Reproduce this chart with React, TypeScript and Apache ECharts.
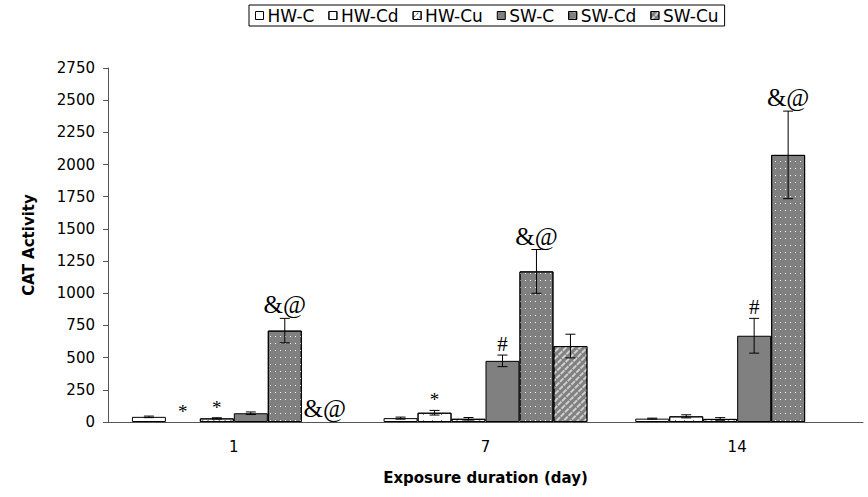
import React, { useEffect, useRef } from 'react';
import * as echarts from 'echarts';

const categories = ['1', '7', '14'];
const seriesNames = ['HW-C', 'HW-Cd', 'HW-Cu', 'SW-C', 'SW-Cd', 'SW-Cu'];

const hwC = [40, 30, 26];
const hwCd = [0, 72, 44];
const hwCu = [28, 25, 24];
const swC = [68, 475, 670];
const swCd = [710, 1170, 2075];
const swCu = [0, 590, 0];

const hwCErr = [6, 8, 4];
const hwCdErr = [0, 18, 12];
const hwCuErr = [5, 10, 10];
const swCErr = [10, 45, 135];
const swCdErr = [95, 170, 340];
const swCuErr = [0, 92, 0];

const hwCMarks = ['', '', ''];
const hwCdMarks = ['*', '*', ''];
const hwCuMarks = ['*', '', ''];
const swCMarks = ['', '#', '#'];
const swCdMarks = ['&@', '&@', '&@'];
const swCuMarks = ['&@', '', ''];

const values = [hwC, hwCd, hwCu, swC, swCd, swCu];
const errors = [hwCErr, hwCdErr, hwCuErr, swCErr, swCdErr, swCuErr];
const marks = [hwCMarks, hwCdMarks, hwCuMarks, swCMarks, swCdMarks, swCuMarks];

const CAT_GAP = 0.19;
const FONT = 'DejaVu Sans';

const styles: any[] = [
  { color: '#ffffff' },
  { color: '#ffffff', decal: { symbol: 'rect', symbolSize: 1, dashArrayX: [1, 8], dashArrayY: [1, 5], color: '#808080' } },
  { color: '#ffffff', decal: { symbol: 'rect', symbolSize: 1, dashArrayX: [3, 1], dashArrayY: [1, 3], rotation: -Math.PI / 4, color: '#808080' } },
  { color: '#808080' },
  { color: '#808080', decal: { symbol: 'rect', symbolSize: 1, dashArrayX: [1, 4], dashArrayY: [1, 6], color: '#ffffff' } },
  { color: '#808080', decal: { symbol: 'rect', symbolSize: 1, dashArrayX: [5, 1], dashArrayY: [2, 3], rotation: -Math.PI / 4, color: '#cfcfcf' } },
];

export default function App() {
  const ref = useRef<HTMLDivElement>(null);
  useEffect(() => {
    if (!ref.current) return;
    const chart = echarts.init(ref.current, null, { renderer: 'svg' });
    const barSeries = seriesNames.map((name, i) => ({
      name,
      type: 'bar',
      data: values[i].map((v) => (v === 0 ? '-' : v)),
      barGap: '0%',
      barCategoryGap: CAT_GAP * 100 + '%',
      itemStyle: { ...styles[i], borderColor: '#000', borderWidth: 1 },
    }));
    const errSeries = seriesNames.map((name, si) => ({
      type: 'custom',
      z: 10,
      silent: true,
      data: categories.map((_, ci) => [ci, values[si][ci], errors[si][ci]]),
      encode: { x: 0, y: 1 },
      renderItem: (params: any, api: any) => {
        const ci = api.value(0);
        const v = api.value(1);
        const e = api.value(2);
        const base = api.coord([ci, v]);
        const band = api.size([1, 0])[0];
        const bw = (band * (1 - CAT_GAP)) / 6;
        const x = base[0] + (si - 2.5) * bw;
        const children: any[] = [];
        let topY = base[1];
        const ls = { stroke: '#000', lineWidth: 1 };
        if (e > 0) {
          const hi = api.coord([ci, v + e])[1];
          const lo = api.coord([ci, v - e])[1];
          children.push({ type: 'line', shape: { x1: x, y1: hi, x2: x, y2: lo }, style: ls });
          children.push({ type: 'line', shape: { x1: x - 5, y1: hi, x2: x + 5, y2: hi }, style: ls });
          children.push({ type: 'line', shape: { x1: x - 5, y1: lo, x2: x + 5, y2: lo }, style: ls });
          topY = hi;
        }
        const lab = marks[si][params.dataIndex];
        if (lab) {
          const isAt = lab === '&@';
          children.push({
            type: 'text',
            x: isAt && v === 0 ? x + 6 : x,
            y: topY - 1,
            style: {
              text: lab,
              align: 'center',
              verticalAlign: 'bottom',
              fontFamily: 'Liberation Serif',
              fontSize: isAt ? 25 : lab === '#' ? 21 : 19,
              fill: '#000',
            },
          });
        }
        return { type: 'group', children };
      },
    }));
    chart.setOption({
      animation: false,
      legend: {
        data: seriesNames.map((name, i) => ({ name, itemStyle: { ...styles[i], borderColor: '#000', borderWidth: 1 } })),
        left: 249,
        top: 5,
        borderColor: '#000',
        borderWidth: 1,
        padding: [2, 6],
        itemWidth: 8,
        itemHeight: 8,
        itemGap: 14,
        icon: 'rect',
        textStyle: { fontFamily: FONT, fontSize: 17, color: '#000', padding: [0, 0, 0, -1] },
      },
      grid: { left: 108, right: 5, top: 68, bottom: 75 },
      xAxis: {
        type: 'category',
        data: categories,
        name: 'Exposure duration (day)',
        nameLocation: 'middle',
        nameGap: 48,
        nameTextStyle: { fontFamily: FONT, fontSize: 15, fontWeight: 'bold', color: '#000' },
        axisLine: { lineStyle: { color: '#555', width: 1 } },
        axisTick: { length: 5, lineStyle: { color: '#555' } },
        axisLabel: { fontFamily: FONT, fontSize: 15, color: '#000', margin: 17 },
      },
      yAxis: {
        type: 'value',
        min: 0,
        max: 2750,
        interval: 250,
        name: 'CAT Activity',
        nameLocation: 'middle',
        nameGap: 72,
        nameTextStyle: { fontFamily: FONT, fontSize: 15, fontWeight: 'bold', color: '#000' },
        axisLine: { show: true, lineStyle: { color: '#555', width: 1 } },
        axisTick: { show: true, length: 5, lineStyle: { color: '#555' } },
        splitLine: { show: false },
        axisLabel: { fontFamily: FONT, fontSize: 15, color: '#000', margin: 13, formatter: (v: number) => String(v) },
      },
      series: [...barSeries, ...errSeries],
    });
    return () => chart.dispose();
  }, []);
  return <div ref={ref} style={{ position: 'absolute', left: 0, top: 0, width: 868, height: 497 }} />;
}
